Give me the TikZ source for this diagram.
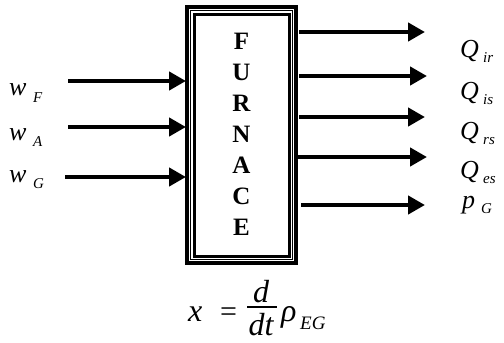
\documentclass[tikz,border=0pt]{standalone}
\usepackage{fontspec}
\setmainfont{Liberation Serif}
\usetikzlibrary{arrows.meta}
\tikzset{
  flow/.style={line width=4.5pt,-{Triangle[length=17pt,width=18pt]}},
  lbl/.style={inner sep=0pt,anchor=base west,font=\fontsize{26}{26}\selectfont\itshape},
  sub/.style={inner sep=0pt,anchor=base west,font=\fontsize{15}{15}\selectfont\itshape},
  letter/.style={inner sep=0pt,anchor=base,font=\fontsize{25}{25}\selectfont\bfseries},
  eq/.style={inner sep=0pt,anchor=base west,font=\fontsize{32}{32}\selectfont\itshape},
  eqsub/.style={inner sep=0pt,anchor=base west,font=\fontsize{19}{19}\selectfont\itshape}
}
\begin{document}
\begin{tikzpicture}[x=1pt,y=-1pt]
\useasboundingbox (0,0) rectangle (504,343);
% furnace box with double border
\draw[line width=4pt] (187,7) rectangle (296,263);
\draw[line width=0.8pt] (190.5,10.5) rectangle (292.5,259.5);
\draw[line width=3pt] (194,14) rectangle (289,256);
\coordinate (boxL1) at (186,81);
\coordinate (boxL2) at (186,127);
\coordinate (boxL3) at (186,177);
% letters
\node[letter] (l1) at (241.5,49) {F};
\node[letter] (l2) at (241.5,80) {U};
\node[letter] (l3) at (241.5,111) {R};
\node[letter] (l4) at (241.5,142) {N};
\node[letter] (l5) at (241.5,173) {A};
\node[letter] (l6) at (241.5,204) {C};
\node[letter] (l7) at (241.5,235) {E};
% inputs
\coordinate (in1) at (68,81);
\coordinate (in2) at (68,127);
\coordinate (in3) at (65,177);
\draw[flow] (in1) -- (boxL1);
\draw[flow] (in2) -- (boxL2);
\draw[flow] (in3) -- (boxL3);
\node[lbl] (wF) at (9,95) {w};
\node[sub] (wFs) at (33,102) {F};
\node[lbl] (wA) at (9,140) {w};
\node[sub] (wAs) at (33,146) {A};
\node[lbl] (wG) at (9,182) {w};
\node[sub] (wGs) at (33,188) {G};
% outputs
\coordinate (o1s) at (299,32);
\coordinate (o2s) at (299,76);
\coordinate (o3s) at (299,117);
\coordinate (o4s) at (297,157);
\coordinate (o5s) at (301,205);
\coordinate (o1e) at (425,32);
\coordinate (o2e) at (427,76);
\coordinate (o3e) at (425,117);
\coordinate (o4e) at (427,157);
\coordinate (o5e) at (425,205);
\draw[flow] (o1s) -- (o1e);
\draw[flow] (o2s) -- (o2e);
\draw[flow] (o3s) -- (o3e);
\draw[flow] (o4s) -- (o4e);
\draw[flow] (o5s) -- (o5e);
\node[lbl] (Q1) at (460,57) {Q};
\node[sub] (Q1s) at (483,62) {ir};
\node[lbl] (Q2) at (460,99) {Q};
\node[sub] (Q2s) at (483,104) {is};
\node[lbl] (Q3) at (460,139) {Q};
\node[sub] (Q3s) at (483,144) {rs};
\node[lbl] (Q4) at (460,178) {Q};
\node[sub] (Q4s) at (483,183) {es};
\node[lbl] (pG) at (462,208) {p};
\node[sub] (pGs) at (481,213) {G};
% equation
\node[eq] (ex) at (188,321) {x};
\node[inner sep=0pt,anchor=base west,font=\fontsize{30}{30}\selectfont] (eqs) at (220,321) {=};
\node[eq,anchor=base] (num) at (261,302) {d};
\node[eq,anchor=base] (den) at (261,335) {dt};
\coordinate (barL) at (247,307);
\coordinate (barR) at (277,307);
\draw[line width=1.5pt] (barL) -- (barR);
\node[eq] (rho) at (281,321) {ρ};
\node[eqsub] (rhos) at (300,329) {EG};
\end{tikzpicture}
\end{document}
